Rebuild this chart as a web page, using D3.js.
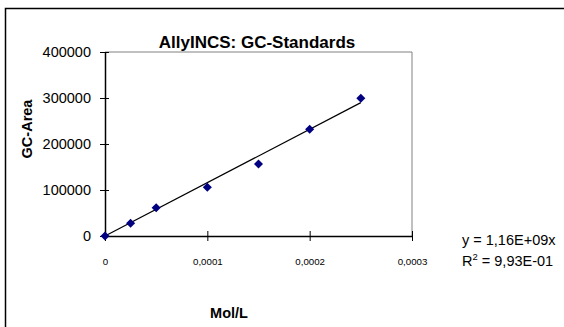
<!DOCTYPE html>
<html>
<head>
<meta charset="utf-8">
<script src="https://cdn.jsdelivr.net/npm/d3@7"></script>
<style>
  html, body { margin: 0; padding: 0; background: #fff; }
  svg { display: block; font-family: Arial, "Liberation Sans", sans-serif; }
</style>
</head>
<body>
<svg id="chart" width="564" height="327"></svg>
<script>
// GC calibration standards: concentration (mol/L) vs. GC peak area
const concentrations = [0, 0.000025, 0.00005, 0.0001, 0.00015, 0.0002, 0.00025];
const areas = [0, 27600, 61500, 105800, 156500, 232000, 299300];
const slope = 1.16e9;
const xTicks = [0, 0.0001, 0.0002, 0.0003];
const xTickLabels = ["0", "0,0001", "0,0002", "0,0003"];
const yTicks = [0, 100000, 200000, 300000, 400000];

const svg = d3.select("#chart");

// outer frame (only top and left edges fall inside the view)
svg.append("rect")
  .attr("x", 5.5).attr("y", 8.5)
  .attr("width", 600).attr("height", 400)
  .attr("fill", "none").attr("stroke", "#000").attr("stroke-width", 1.5);

const x = d3.scaleLinear().domain([0, 0.0003]).range([105, 412]);
const y = d3.scaleLinear().domain([0, 400000]).range([236, 52]);

// plot area border (top and right in grey)
svg.append("path")
  .attr("d", `M${x(0)},${y(400000)}H${x(0.0003)}V${y(0)}`)
  .attr("fill", "none").attr("stroke", "#808080").attr("stroke-width", 1);

// y axis
const yAxis = svg.append("g").attr("transform", `translate(${x(0)},0)`)
  .call(d3.axisLeft(y).tickValues(yTicks).tickFormat(d3.format("d")).tickSize(0).tickPadding(14));
yAxis.select(".domain").attr("stroke", "#000").attr("stroke-width", 1.5);
yAxis.selectAll(".tick text").attr("font-size", 14.5).attr("fill", "#000")
  .attr("font-family", "Arial, 'Liberation Sans', sans-serif");
yAxis.selectAll(".tick").append("line")
  .attr("x1", -5).attr("x2", 4).attr("stroke", "#000").attr("stroke-width", 1);

// x axis
const xAxis = svg.append("g").attr("transform", `translate(0,${y(0)})`)
  .call(d3.axisBottom(x).tickValues(xTicks).tickFormat((d, i) => xTickLabels[i]).tickSize(0).tickPadding(22));
xAxis.select(".domain").attr("stroke", "#000").attr("stroke-width", 1.5);
xAxis.selectAll(".tick text").attr("font-size", 9.7).attr("fill", "#000")
  .attr("font-family", "Arial, 'Liberation Sans', sans-serif");
xAxis.selectAll(".tick").append("line")
  .attr("y1", -5).attr("y2", 5).attr("stroke", "#000").attr("stroke-width", 1);

// linear trendline through origin
const xMax = d3.max(concentrations);
svg.append("line")
  .attr("x1", x(0)).attr("y1", y(0))
  .attr("x2", x(xMax)).attr("y2", y(slope * xMax))
  .attr("stroke", "#000").attr("stroke-width", 1.2);

// data markers (diamonds)
const diamond = d3.symbol().type(d3.symbolDiamond2).size(52);
svg.append("g").selectAll("path")
  .data(concentrations.map((c, i) => [c, areas[i]]))
  .join("path")
  .attr("d", diamond)
  .attr("transform", d => `translate(${x(d[0])},${y(d[1])})`)
  .attr("fill", "#000080");

// title
svg.append("text")
  .attr("x", 257).attr("y", 48)
  .attr("text-anchor", "middle")
  .attr("font-size", 17).attr("font-weight", "bold")
  .text("AllyINCS: GC-Standards");

// axis titles
svg.append("text")
  .attr("transform", "translate(32,129) rotate(-90)")
  .attr("text-anchor", "middle")
  .attr("font-size", 14.5).attr("font-weight", "bold")
  .text("GC-Area");

svg.append("text")
  .attr("x", 229).attr("y", 318)
  .attr("text-anchor", "middle")
  .attr("font-size", 14.5).attr("font-weight", "bold")
  .text("Mol/L");

// regression equation
svg.append("text")
  .attr("x", 462).attr("y", 245)
  .attr("font-size", 14.5)
  .text("y = 1,16E+09x");
const r2 = svg.append("text")
  .attr("x", 462).attr("y", 266)
  .attr("font-size", 14.5);
r2.append("tspan").text("R");
r2.append("tspan").attr("font-size", 9.5).attr("dy", -6).text("2");
r2.append("tspan").attr("dy", 6).text(" = 9,93E-01");
</script>
</body>
</html>
